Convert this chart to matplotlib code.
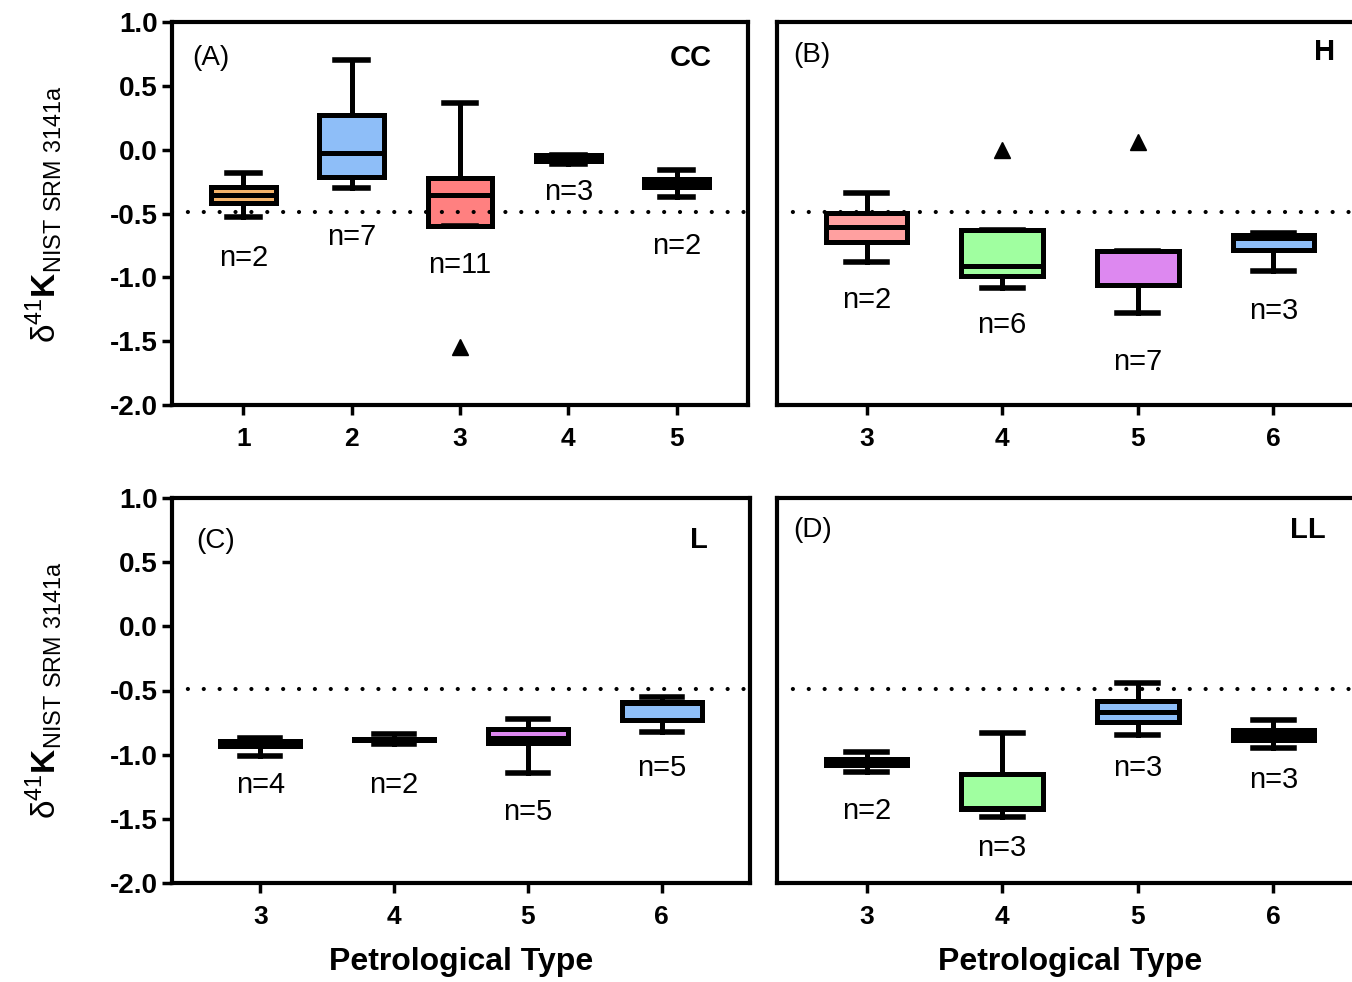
import matplotlib
matplotlib.use("Agg")
import matplotlib.pyplot as plt

plt.rcParams['font.family'] = ['Liberation Sans', 'DejaVu Sans']
plt.rcParams['axes.unicode_minus'] = False
plt.rcParams['mathtext.fontset'] = 'custom'
plt.rcParams['mathtext.rm'] = 'Liberation Sans'
plt.rcParams['mathtext.bf'] = 'Liberation Sans:bold'

# panel A - CC
a_types = [1, 2, 3, 4, 5]
a_whislo = [-0.53, -0.30, -0.598, -0.113, -0.368]
a_q1 = [-0.42, -0.217, -0.598, -0.09, -0.296]
a_med = [-0.355, -0.03, -0.352, -0.07, -0.26]
a_q3 = [-0.29, 0.274, -0.222, -0.045, -0.231]
a_whishi = [-0.183, 0.70, 0.363, -0.045, -0.159]
a_fliers = [[], [], [-1.545], [], []]
a_n = [2, 7, 11, 3, 2]
a_colors = ['#F5B369', '#8EBEF8', '#FF8080', '#A0FFA0', '#DD88F0']

# panel B - H
b_types = [3, 4, 5, 6]
b_whislo = [-0.877, -1.081, -1.282, -0.948]
b_q1 = [-0.72, -0.987, -1.06, -0.786]
b_med = [-0.608, -0.911, -0.794, -0.695]
b_q3 = [-0.498, -0.629, -0.794, -0.668]
b_whishi = [-0.337, -0.629, -0.794, -0.655]
b_fliers = [[], [0.0], [0.06], []]
b_n = [2, 6, 7, 3]
b_colors = ['#FFA0A0', '#A0FFA0', '#DD88F0', '#8EBEF8']

# panel C - L
c_types = [3, 4, 5, 6]
c_whislo = [-1.008, -0.92, -1.14, -0.82]
c_q1 = [-0.935, -0.885, -0.91, -0.728]
c_med = [-0.91, -0.88, -0.87, -0.60]
c_q3 = [-0.89, -0.875, -0.80, -0.593]
c_whishi = [-0.87, -0.84, -0.72, -0.547]
c_fliers = [[], [], [], []]
c_n = [4, 2, 5, 5]
c_colors = ['#FFA0A0', '#A0FFA0', '#DD88F0', '#8EBEF8']

# panel D - LL
d_types = [3, 4, 5, 6]
d_whislo = [-1.138, -1.482, -0.846, -0.948]
d_q1 = [-1.084, -1.427, -0.744, -0.884]
d_med = [-1.06, -1.414, -0.669, -0.85]
d_q3 = [-1.035, -1.148, -0.58, -0.811]
d_whishi = [-0.977, -0.833, -0.44, -0.727]
d_fliers = [[], [], [], []]
d_n = [2, 3, 3, 3]
d_colors = ['#FFA0A0', '#A0FFA0', '#8EBEF8', '#DD88F0']

ref_line = -0.49
y_ticks = [-2.0, -1.5, -1.0, -0.5, 0.0, 0.5, 1.0]

# where the n= labels sit (data units)
a_label_y = [-0.85, -0.685, -0.90, -0.33, -0.755]
b_label_y = [-1.18, -1.37, -1.66, -1.26]
c_label_y = [-1.24, -1.24, -1.45, -1.10]
d_label_y = [-1.44, -1.73, -1.10, -1.20]

W, H = 1352, 982
fig = plt.figure(figsize=(W / 100, H / 100), dpi=100)

lw = 3.6


def draw_panel(rect, types, whislo, q1, med, q3, whishi, fliers, n, colors,
               label_y, letter, letter_xy, group, group_xy, show_y, xlabel):
    ax = fig.add_axes(rect)
    stats = []
    for i in range(len(types)):
        stats.append(dict(whislo=whislo[i], q1=q1[i], med=med[i], q3=q3[i],
                          whishi=whishi[i], fliers=fliers[i]))
    bp = ax.bxp(stats, positions=types, widths=0.6, capwidths=0.3,
                patch_artist=True, manage_ticks=False,
                boxprops=dict(linewidth=lw, edgecolor='black', joinstyle='miter'),
                whiskerprops=dict(linewidth=lw, color='black'),
                capprops=dict(linewidth=lw + 0.4, color='black'),
                medianprops=dict(linewidth=lw, color='black'),
                flierprops=dict(marker='^', markersize=11, markerfacecolor='black',
                                markeredgecolor='black'))
    for patch, c in zip(bp['boxes'], colors):
        patch.set_facecolor(c)

    ax.axhline(ref_line, color='black', linewidth=3.0,
               linestyle=(0, (0.01, 3.8)), dash_capstyle='round', zorder=5)

    for x, lab, yy in zip(types, n, label_y):
        ax.text(x, yy, f"n={lab}", ha='center', va='center', fontsize=21)

    ax.set_xlim(types[0] - 0.66, types[-1] + 0.66)
    ax.set_ylim(-2.0, 1.0)
    ax.set_xticks(types)
    ax.set_xticklabels([str(t) for t in types], fontsize=19, fontweight='bold')
    ax.set_yticks(y_ticks)
    if show_y:
        ax.set_yticklabels([f"{v:.1f}" for v in y_ticks], fontsize=20, fontweight='bold')
        ax.tick_params(axis='y', direction='out', length=7, width=2.5, pad=3)
    else:
        ax.tick_params(axis='y', left=False, labelleft=False)
    ax.tick_params(axis='x', direction='out', length=7, width=2.5, pad=9)
    for s in ax.spines.values():
        s.set_linewidth(3)

    ax.text(letter_xy[0], letter_xy[1], letter, transform=ax.transAxes,
            ha='left', va='center', fontsize=20)
    ax.text(group_xy[0], group_xy[1], group, transform=ax.transAxes,
            ha='right', va='center', fontsize=21, fontweight='bold')
    if xlabel:
        ax.set_xlabel("Petrological Type", fontsize=23, fontweight='bold', labelpad=13)
    return ax


draw_panel([172 / W, 1 - 405 / H, 576 / W, 383 / H], a_types, a_whislo, a_q1, a_med,
           a_q3, a_whishi, a_fliers, a_n, a_colors, a_label_y,
           "(A)", (0.036, 0.906), "CC", (0.9375, 0.906), True, False)
draw_panel([777 / W, 1 - 405 / H, 586 / W, 383 / H], b_types, b_whislo, b_q1, b_med,
           b_q3, b_whishi, b_fliers, b_n, b_colors, b_label_y,
           "(B)", (0.027, 0.914), "H", (0.952, 0.922), False, False)
draw_panel([172 / W, 1 - 883 / H, 578 / W, 385 / H], c_types, c_whislo, c_q1, c_med,
           c_q3, c_whishi, c_fliers, c_n, c_colors, c_label_y,
           "(C)", (0.0415, 0.888), "L", (0.927, 0.89), True, True)
draw_panel([777 / W, 1 - 883 / H, 586 / W, 385 / H], d_types, d_whislo, d_q1, d_med,
           d_q3, d_whishi, d_fliers, d_n, d_colors, d_label_y,
           "(D)", (0.027, 0.917), "LL", (0.937, 0.917), False, True)

ylab = r"δ$^{\mathregular{41}}$$\mathbf{K}_{\mathregular{NIST\ SRM\ 3141a}}$"
fig.text(44 / W, 1 - 214 / H, ylab, rotation=90, ha='center', va='center', fontsize=24)
fig.text(44 / W, 1 - 690 / H, ylab, rotation=90, ha='center', va='center', fontsize=24)

fig.savefig("out.png", dpi=100)
